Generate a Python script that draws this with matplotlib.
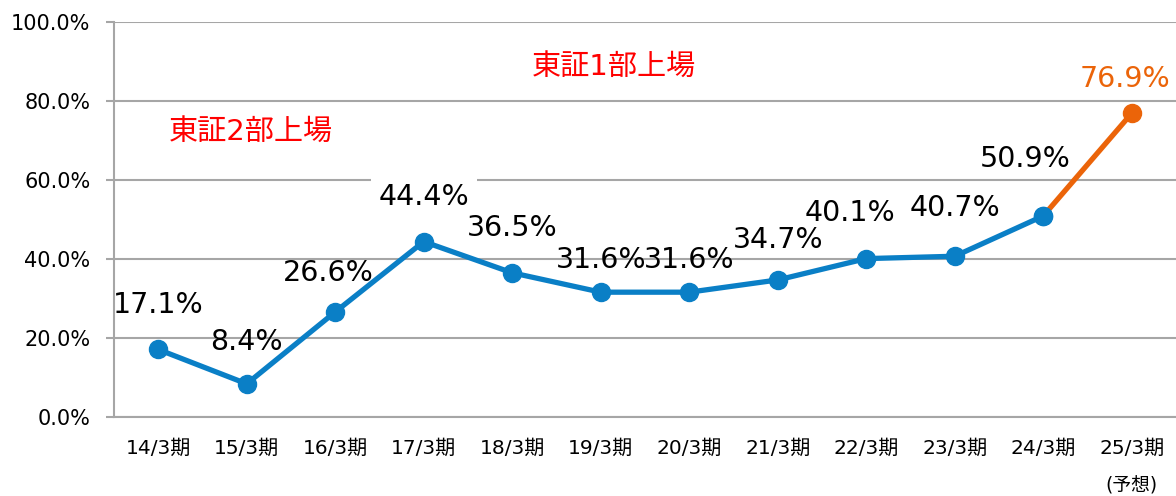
import matplotlib
matplotlib.use("Agg")
import matplotlib.pyplot as plt
from matplotlib.patches import Rectangle
from matplotlib.transforms import blended_transform_factory

plt.rcParams['font.family'] = ['DejaVu Sans', 'Noto Sans CJK JP']

# data
periods = ['14/3期', '15/3期', '16/3期', '17/3期', '18/3期', '19/3期',
           '20/3期', '21/3期', '22/3期', '23/3期', '24/3期', '25/3期']
ratio = [17.1, 8.4, 26.6, 44.4, 36.5, 31.6, 31.6, 34.7, 40.1, 40.7, 50.9, 76.9]
forecast_note = '(予想)'
yticks = [0, 20, 40, 60, 80, 100]

# label offsets in points (dx, dy) relative to each point
label_off = [(0, 32), (0, 30), (-5, 28), (0, 32), (0, 32), (0, 23),
             (0, 23), (0, 29), (-12, 33), (0, 35), (-13, 41), (-5, 25)]

blue = '#0A7FC6'
orange = '#EB6409'
grid_c = '#A6A6A6'

fig = plt.figure(figsize=(11.76, 4.96), dpi=100)
fig.patch.set_facecolor('white')
ax = fig.add_axes([114 / 1176, 1 - 417 / 496, 1 - 114 / 1176, (417 - 22) / 496])

x = list(range(len(periods)))
n_act = len(periods) - 1

ax.plot(x[:n_act], ratio[:n_act], color=blue, lw=3.8, marker='o', ms=13,
        solid_capstyle='round', zorder=4)
ax.plot(x[n_act - 1:], ratio[n_act - 1:], color=orange, lw=3.8, zorder=3)
ax.plot(x[n_act:], ratio[n_act:], color=orange, marker='o', ms=13, lw=0, zorder=4)
# redraw last actual marker on top of the orange segment
ax.plot(x[n_act - 1], ratio[n_act - 1], color=blue, marker='o', ms=13, zorder=5)

for i, v in enumerate(ratio):
    c = orange if i == n_act else 'black'
    ax.annotate('%.1f%%' % v, (x[i], v), xytext=label_off[i],
                textcoords='offset points', ha='center', va='center',
                fontsize=20.5, color=c, annotation_clip=False, zorder=6)

ax.set_xlim(-0.5, len(periods) - 0.5)
ax.set_ylim(0, 100)
ax.set_yticks(yticks)
ax.set_yticklabels(['%.1f%%' % t for t in yticks])
ax.set_xticks(x)
ax.set_xticklabels(periods)

ax.yaxis.grid(True, color=grid_c, lw=1.5, zorder=1)
ax.set_axisbelow(True)
# white gap in the 60% gridline
ax.add_patch(Rectangle((2.4, 58.5), 1.2, 3, facecolor='white', edgecolor='none', zorder=2))

for s in ['top', 'right']:
    ax.spines[s].set_visible(False)
for s in ['left', 'bottom']:
    ax.spines[s].set_color(grid_c)
    ax.spines[s].set_linewidth(1.5)

ax.tick_params(axis='y', length=6, width=1.5, color=grid_c, pad=11, labelsize=15)
ax.tick_params(axis='x', length=0, pad=16, labelsize=14.5)

ax.text(1.05, 72, '東証2部上場', color='red', fontsize=21, ha='center', va='center')
ax.text(5.15, 88.5, '東証1部上場', color='red', fontsize=21, ha='center', va='center')

trans = blended_transform_factory(ax.transData, ax.transAxes)
ax.text(x[-1], -0.175, forecast_note, transform=trans, ha='center', va='center',
        fontsize=13.5)

plt.savefig('out.png', dpi=100, facecolor='white')
